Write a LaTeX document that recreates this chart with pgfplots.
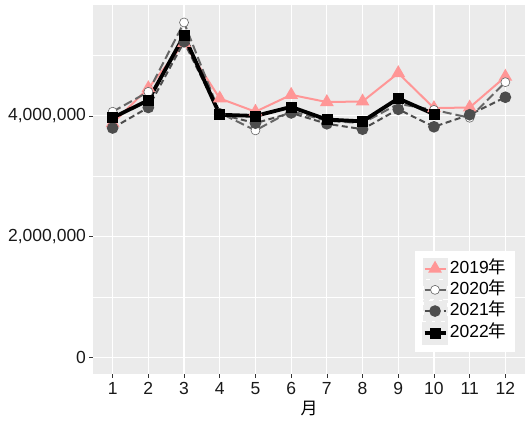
\documentclass[border=0pt]{standalone}
\usepackage{pgfplots}
\pgfplotsset{compat=1.18}
\usepackage{fontspec}
\setmainfont{Liberation Sans}
\newfontfamily\cjk{Noto Sans CJK JP}
\definecolor{bggray}{HTML}{EBEBEB}
\definecolor{pinkc}{RGB}{255,150,150}
\definecolor{g20}{HTML}{333333}
\definecolor{g40}{HTML}{666666}
\definecolor{g30}{HTML}{4D4D4D}
\begin{document}
\begin{tikzpicture}
\begin{axis}[
  at={(0,0)}, anchor=south west,
  scale only axis, width=432bp, height=369bp,
  xmin=0.45, xmax=12.55, ymin=-280000, ymax=5840000,
  axis background/.style={fill=bggray},
  axis line style={draw=none},
  xtick={1,...,12},
  ytick={0,2000000,4000000},
  minor ytick={1000000,3000000,5000000},
  grid=both,
  major grid style={white, line width=1.1bp},
  minor grid style={white, line width=0.55bp},
  tick style={g20, line width=0.6bp},
  tick align=outside,
  major tick length=3.5bp,
  minor tick length=0pt,
  xtick pos=bottom, ytick pos=left,
  scaled y ticks=false,
  /pgf/number format/assume math mode=true,
  yticklabel={\pgfmathprintnumber[fixed,1000 sep={,}]{\tick}},
  ticklabel style={font=\fontsize{17.5bp}{20bp}\selectfont, text=black!90},
  xticklabel style={yshift=-1bp},
  xlabel={\cjk 月},
  xlabel style={font=\fontsize{17bp}{20bp}\selectfont, yshift=0bp},
  legend cell align=left,
  legend style={at={(0.977,0.06)}, anchor=south east, draw=none, fill=white,
    font=\fontsize{17.5bp}{20bp}\selectfont,
    inner xsep=7bp, inner ysep=7bp, row sep=0bp,
    nodes={inner sep=1.5bp, text height=12.5bp, text depth=3.5bp}},
  legend image code/.code={%
    \fill[bggray] (-1bp,-9.6bp) rectangle (22bp,9.6bp);
    \draw[mark repeat=2,mark phase=2,#1] plot coordinates {(0bp,0bp) (10.5bp,0bp) (21bp,0bp)};},
]
\addplot[pinkc, line width=2bp, mark=triangle*, mark size=6bp, mark options={solid}] coordinates {
(1,3880000) (2,4460000) (3,5210000) (4,4290000) (5,4070000) (6,4350000)
(7,4230000) (8,4240000) (9,4710000) (10,4130000) (11,4140000) (12,4650000)};
\addlegendentry{2019{\cjk 年}}
\addplot[g40, line width=2bp, dash pattern=on 9bp off 4bp, mark=*, mark size=4.5bp, mark options={solid, fill=white, draw=g40, line width=0.6bp}] coordinates {
(1,4070000) (2,4400000) (3,5550000) (4,4050000) (5,3760000) (6,4080000)
(7,3920000) (8,3880000) (9,4200000) (10,4100000) (11,3970000) (12,4560000)};
\addlegendentry{2020{\cjk 年}}
\addplot[g30, line width=2bp, dash pattern=on 6bp off 3.5bp, mark=*, mark size=4.8bp, mark options={solid, fill=g30}] coordinates {
(1,3800000) (2,4140000) (3,5230000) (4,4030000) (5,3880000) (6,4050000)
(7,3870000) (8,3780000) (9,4110000) (10,3820000) (11,4020000) (12,4310000)};
\addlegendentry{2021{\cjk 年}}
\addplot[black, line width=3.8bp, mark=square*, mark size=5bp, mark options={solid, line width=0.5bp}] coordinates {
(1,3970000) (2,4260000) (3,5330000) (4,4020000) (5,4000000) (6,4150000)
(7,3940000) (8,3910000) (9,4290000) (10,4030000)};
\addlegendentry{2022{\cjk 年}}
\end{axis}
\path[use as bounding box] (-93bp,-49bp) rectangle (433bp,374bp);
\end{tikzpicture}
\end{document}
